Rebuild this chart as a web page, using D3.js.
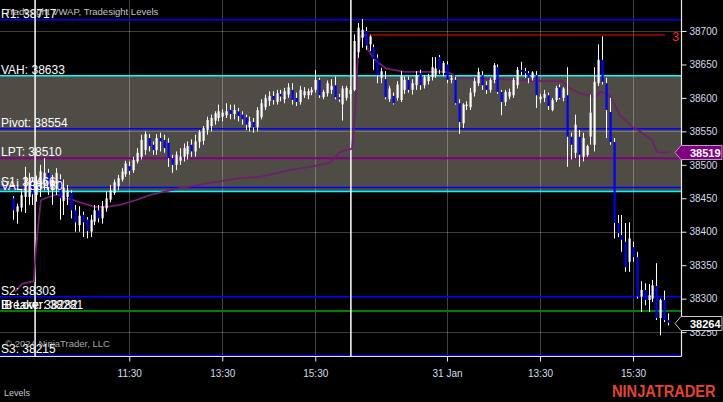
<!DOCTYPE html>
<html><head><meta charset="utf-8">
<script src="https://cdn.jsdelivr.net/npm/d3@7"></script>
<style>
html,body{margin:0;padding:0;background:#000;}
svg{display:block;}
text{font-family:"Liberation Sans",Arial,sans-serif;}
</style></head><body>
<svg id="chart" width="723" height="402"></svg>
<script>
// ---------- DATA ----------
const openP = [38450,38430,38436,38452,38452,38475,38455,38466,38478,38488,
38462,38472,38478,38446,38452,38458,38432,38410,38425,38418,
38400,38415,38432,38420,38435,38448,38458,38468,38478,38486,
38498,38492,38505,38512,38522,38540,38530,38522,38540,38537,
38533,38510,38500,38506,38512,38516,38530,38520,38534,38536,
38552,38558,38566,38570,38572,38574,38582,38576,38580,38575,
38571,38556,38564,38556,38571,38586,38595,38603,38594,38606,
38598,38605,38612,38600,38594,38604,38604,38608,38612,38627,
38601,38607,38612,38619,38601,38590,38600,38606,38612,38668,
38690,38700,38680,38676,38660,38630,38628,38598,38603,38600,
38597,38612,38627,38612,38619,38637,38619,38625,38631,38634,
38661,38637,38650,38627,38627,38592,38562,38588,38586,38608,
38622,38634,38619,38612,38627,38646,38609,38594,38602,38604,
38619,38642,38640,38637,38630,38634,38598,38600,38604,38582,
38597,38616,38600,38604,38542,38518,38542,38512,38515,38542,
38530,38622,38657,38622,38579,38534,38413,38395,38385,38355,
38377,38362,38303,38313,38298,38300,38319,38271,38298,38268];
const highP = [38453,38442,38462,38497,38488,38480,38484,38500,38510,38494,
38485,38495,38486,38478,38470,38462,38440,38438,38430,38422,
38425,38440,38440,38446,38460,38470,38478,38485,38495,38506,
38505,38512,38525,38545,38550,38546,38535,38546,38548,38545,
38540,38515,38520,38525,38532,38535,38538,38545,38552,38558,
38572,38575,38580,38590,38583,38592,38590,38590,38585,38580,
38575,38572,38570,38586,38598,38605,38610,38610,38612,38612,
38615,38622,38622,38608,38618,38616,38614,38616,38642,38630,
38612,38626,38628,38632,38606,38618,38618,38618,38695,38712,
38718,38706,38695,38680,38665,38645,38640,38618,38608,38625,
38640,38632,38632,38628,38640,38642,38634,38636,38661,38661,
38664,38655,38655,38634,38632,38598,38592,38595,38615,38630,
38645,38640,38625,38630,38652,38650,38612,38612,38614,38630,
38646,38654,38645,38640,38640,38640,38606,38612,38608,38600,
38618,38620,38616,38646,38548,38575,38552,38548,38530,38605,
38646,38680,38692,38630,38600,38540,38425,38425,38413,38414,
38385,38370,38326,38323,38322,38328,38353,38300,38312,38278];
const lowP = [38418,38412,38430,38428,38440,38440,38445,38452,38462,38455,
38440,38455,38418,38425,38440,38420,38400,38400,38392,38390,
38392,38410,38414,38412,38430,38444,38455,38462,38475,38482,
38485,38488,38502,38508,38515,38520,38515,38515,38520,38518,
38497,38488,38492,38500,38505,38508,38512,38512,38525,38530,
38545,38550,38560,38565,38565,38570,38568,38568,38565,38560,
38552,38550,38548,38550,38568,38582,38588,38590,38590,38595,
38592,38600,38590,38588,38590,38600,38598,38604,38608,38600,
38598,38602,38606,38598,38594,38566,38596,38598,38610,38660,
38675,38672,38670,38642,38622,38622,38598,38594,38590,38596,
38594,38606,38608,38605,38612,38612,38614,38620,38626,38630,
38636,38632,38622,38622,38590,38546,38555,38582,38582,38602,
38618,38612,38606,38608,38622,38606,38574,38588,38598,38600,
38614,38634,38630,38622,38626,38585,38592,38594,38582,38580,
38594,38598,38595,38497,38508,38510,38497,38505,38512,38530,
38520,38618,38620,38540,38530,38390,38392,38370,38340,38340,
38355,38300,38280,38290,38280,38295,38268,38245,38265,38260];
const closeP = [38432,38438,38455,38482,38476,38456,38470,38490,38488,38466,
38478,38488,38450,38466,38462,38432,38414,38424,38414,38401,
38418,38432,38420,38438,38450,38462,38474,38480,38490,38502,
38491,38507,38518,38537,38546,38528,38522,38540,38535,38525,
38510,38500,38515,38512,38525,38528,38520,38535,38549,38555,
38567,38570,38577,38580,38578,38580,38576,38582,38573,38568,
38560,38565,38556,38582,38592,38600,38603,38597,38607,38602,
38610,38616,38597,38594,38612,38610,38610,38612,38627,38604,
38609,38622,38618,38601,38598,38614,38615,38612,38685,38705,
38702,38678,38692,38658,38634,38640,38601,38614,38592,38620,
38634,38627,38612,38622,38634,38619,38631,38632,38646,38644,
38642,38652,38627,38630,38592,38564,38590,38590,38608,38625,
38639,38619,38612,38627,38649,38609,38594,38609,38609,38627,
38642,38639,38637,38630,38638,38604,38602,38606,38588,38597,
38615,38600,38614,38542,38530,38560,38515,38540,38528,38578,
38624,38657,38624,38582,38534,38413,38398,38388,38347,38390,
38362,38303,38313,38298,38305,38320,38271,38298,38268,38264];

// VWAP (bar index, value)
const vwapIdx = [0.5,2.3,5.4,5.9,6.5,7.2,8.3,10.8,12.1,13.4,14.7,17.3,21.2,25,27.6,31.5,35.4,43.1,50.8,58.6,63.7,71.5,76.6,81.8,84.4,85.7,87.5,88.3,88.8,89.3,89.8,91.1,91.6,93.4,96,98.1,101.2,111.5,113.3,114.3,125.7,136,141.9,143.2,146.3,150.2,151.5,153.5,155.1,156.6,160,163.1,164.9,166.2,167.7,169.5];
const vwapVal = [38310,38322,38326,38373,38410,38447,38450,38455,38455,38450,38449,38444,38437,38438,38440,38447,38455,38465,38473,38480,38482,38492,38497,38503,38519,38522,38524,38582,38642,38682,38693,38694,38672,38657,38645,38642,38639,38639,38636,38630,38628,38625,38625,38616,38607,38601,38609,38606,38592,38574,38556,38545,38537,38519,38518,38519];

// Levels
const levelNames  = ["R1","VAH","Pivot","LPT","S1","VAL","S2","IB Low","Breaker","S3"];
const levelValues = [38717,38633,38554,38510,38466,38460,38303,38282,38281,38215];
const valueArea = [38633, 38460];   // VAH, VAL
const redLevel = 38694, redLevelFrom = 92, redLevelLabel = "3";

// axes
const yTicks = [38250,38300,38350,38400,38450,38500,38550,38600,38650,38700];
const yGrid = [38250,38400,38550,38700];
const xTickIdx = [30,54,78,112,136,160];
const xTickLabels = ["11:30","13:30","15:30","31 Jan","13:30","15:30"];
const sessionBreaks = [5.7, 87.2];

// ---------- STYLE ----------
const levelColor = {"R1":"#0000ff","VAH":"#00ffff","Pivot":"#0000ff","LPT":"#800080","S1":"#0000ff","VAL":"#00ffff","S2":"#0000ff","IB Low":"#008000","Breaker":"#008000","S3":"#0000ff"};
const W = 723, H = 402, plotR = 681, plotB = 356;

const svg = d3.select("#chart");
svg.append("rect").attr("width",W).attr("height",H).attr("fill","#000");

const x = d3.scaleLinear().domain([0,169]).range([13, 13+169*3.875]);
const y = d3.scaleLinear().domain([38250,38700]).range([332.1,31]);

svg.append("defs").append("clipPath").attr("id","plot")
  .append("rect").attr("x",0).attr("y",0).attr("width",plotR).attr("height",plotB);
const g = svg.append("g").attr("clip-path","url(#plot)");

// value area shading
g.append("rect").attr("x",0).attr("width",plotR)
  .attr("y",y(valueArea[0])).attr("height",y(valueArea[1])-y(valueArea[0]))
  .attr("fill","#4e4c45");

// grid
g.selectAll(".hg").data(yGrid).join("line")
  .attr("x1",0).attr("x2",plotR).attr("y1",d=>Math.round(y(d))+0.5).attr("y2",d=>Math.round(y(d))+0.5)
  .attr("stroke","#fff").attr("stroke-opacity",0.24).attr("stroke-width",1);
g.selectAll(".vg").data(xTickIdx).join("line")
  .attr("y1",0).attr("y2",plotB).attr("x1",d=>Math.round(x(d))+0.5).attr("x2",d=>Math.round(x(d))+0.5)
  .attr("stroke","#fff").attr("stroke-opacity",0.26).attr("stroke-width",1);

// level lines
g.selectAll(".lvl").data(levelNames.map((n,i)=>({n,v:levelValues[i]}))).join("line")
  .attr("x1",0).attr("x2",plotR).attr("y1",d=>y(d.v)).attr("y2",d=>y(d.v))
  .attr("stroke",d=>levelColor[d.n]).attr("stroke-width",d=>d.n==="LPT"?2:1.5);

// session breaks
g.selectAll(".sb").data(sessionBreaks).join("line")
  .attr("x1",d=>x(d)).attr("x2",d=>x(d)).attr("y1",0).attr("y2",plotB)
  .attr("stroke","#fff").attr("stroke-width",1.5);

// VWAP
const vw = vwapIdx.map((d,i)=>[d,vwapVal[i]]);
g.append("path").datum(vw)
  .attr("d", d3.line().x(d=>x(d[0])).y(d=>y(d[1])))
  .attr("fill","none").attr("stroke","#6e1f6e").attr("stroke-width",1.8);

// candles
const bars = openP.map((o,i)=>({i,o,h:highP[i],l:lowP[i],c:closeP[i]}));
g.selectAll(".wick").data(bars).join("line")
  .attr("x1",d=>Math.round(x(d.i))+0.5).attr("x2",d=>Math.round(x(d.i))+0.5)
  .attr("y1",d=>y(d.h)).attr("y2",d=>y(d.l))
  .attr("stroke","#fff").attr("stroke-width",1);
g.selectAll(".body").data(bars).join("rect")
  .attr("x",d=>Math.round(x(d.i))-0.5).attr("width",2.2)
  .attr("y",d=>y(Math.max(d.o,d.c)))
  .attr("height",d=>Math.max(1,Math.abs(y(d.o)-y(d.c))))
  .attr("fill",d=>d.c>=d.o?"#ffffff":"#0000ff");

// red level line
g.append("line").attr("x1",x(redLevelFrom)).attr("x2",665)
  .attr("y1",y(redLevel)).attr("y2",y(redLevel)).attr("stroke","#ff0000").attr("stroke-width",1);
svg.append("text").attr("x",672).attr("y",y(redLevel)+5.5).attr("fill","#ff2020")
  .attr("font-size",13).text(redLevelLabel);

// level labels
svg.selectAll(".lbl").data(levelNames.map((n,i)=>({n,v:levelValues[i]}))).join("text")
  .attr("x",1).attr("y",d=>Math.min(y(d.v)-2, 353))
  .attr("fill","#fff").attr("font-size",12)
  .text(d=>`${d.n}: ${d.v}`);

// axes lines
svg.append("line").attr("x1",0).attr("x2",plotR+0.5).attr("y1",plotB+0.5).attr("y2",plotB+0.5)
  .attr("stroke","#e8e8e8").attr("stroke-width",1.2);
svg.append("line").attr("x1",plotR+0.5).attr("x2",plotR+0.5).attr("y1",0).attr("y2",plotB+0.5)
  .attr("stroke","#e8e8e8").attr("stroke-width",1.2);

// right axis
const ra = svg.append("g").attr("transform",`translate(${plotR+0.5},0)`)
  .call(d3.axisRight(y).tickValues(yTicks).tickSize(5).tickPadding(3).tickFormat(d3.format("d")));
ra.select(".domain").remove();
ra.selectAll("line").attr("stroke","#e8e8e8");
ra.selectAll("text").attr("fill","#d4dcea").attr("font-size",10).attr("font-family","Liberation Sans, Arial, sans-serif");

// bottom axis
const ba = svg.append("g").attr("transform",`translate(0,${plotB+0.5})`)
  .call(d3.axisBottom(x).tickValues(xTickIdx).tickSize(5).tickPadding(8).tickFormat((d,i)=>xTickLabels[i]));
ba.select(".domain").remove();
ba.selectAll("line").attr("stroke","#e8e8e8");
ba.selectAll("text").attr("fill","#d4dcea").attr("font-size",10).attr("font-family","Liberation Sans, Arial, sans-serif");

// price markers
function marker(v, fill, stroke, txt){
  const yy = Math.round(y(v))+0.5;
  const p = d3.path();
  p.moveTo(675,yy); p.lineTo(681,yy-7); p.lineTo(722,yy-7); p.lineTo(722,yy+7); p.lineTo(681,yy+7); p.closePath();
  svg.append("path").attr("d",p.toString()).attr("fill",fill).attr("stroke",stroke).attr("stroke-width",1);
  svg.append("text").attr("x",690).attr("y",yy+4).attr("fill","#fff").attr("font-size",11).attr("font-weight","bold").text(txt);
}
marker(vwapVal[vwapVal.length-1], "#800080", "#c890c8", String(vwapVal[vwapVal.length-1]));
marker(closeP[closeP.length-1], "#000000", "#c8c8c8", String(closeP[closeP.length-1]));

// texts
svg.append("text").attr("x",5).attr("y",15).attr("fill","#c4c4c4").attr("font-size",9.5)
  .text("Tradesight VWAP, Tradesight Levels");
svg.append("text").attr("x",5).attr("y",347).attr("fill","#a8a8a8").attr("font-size",9.5)
  .text("© 2024 NinjaTrader, LLC");
svg.append("text").attr("x",4).attr("y",396).attr("fill","#c8c8c8").attr("font-size",9)
  .text("Levels");
svg.append("text").attr("transform","translate(612,397) scale(0.86,1)").attr("fill","#e4452a").attr("font-size",17)
  .attr("font-weight","bold").text("NINJATRADER");
</script>
</body></html>
